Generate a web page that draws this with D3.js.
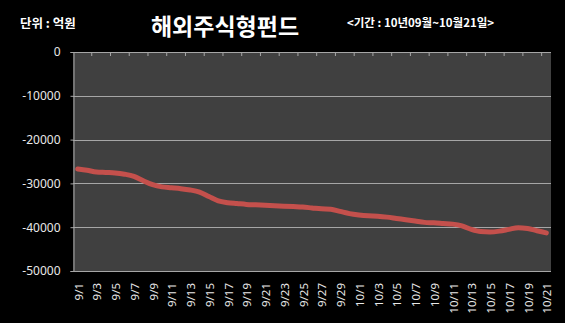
<!DOCTYPE html>
<html>
<head>
<meta charset="utf-8">
<script src="https://cdn.jsdelivr.net/npm/d3@7"></script>
<style>
  html, body { margin: 0; padding: 0; background: #000; }
  svg { display: block; }
</style>
</head>
<body>
<svg id="chart" width="565" height="323"></svg>
<script>
// Daily dates, 2010-09-01 .. 2010-10-21
const dates = [
  "9/1","9/2","9/3","9/4","9/5","9/6","9/7","9/8","9/9","9/10",
  "9/11","9/12","9/13","9/14","9/15","9/16","9/17","9/18","9/19","9/20",
  "9/21","9/22","9/23","9/24","9/25","9/26","9/27","9/28","9/29","9/30",
  "10/1","10/2","10/3","10/4","10/5","10/6","10/7","10/8","10/9","10/10",
  "10/11","10/12","10/13","10/14","10/15","10/16","10/17","10/18","10/19","10/20",
  "10/21"
];

// Cumulative net flow of overseas equity funds (억원)
const netFlow = [
  -26700, -27000, -27400, -27500, -27600, -27900, -28400, -29400, -30300, -30800,
  -31000, -31200, -31500, -32000, -33000, -34000, -34400, -34600, -34800, -34900,
  -35000, -35100, -35200, -35300, -35400, -35600, -35800, -35900, -36400, -36900,
  -37200, -37400, -37500, -37700, -38000, -38300, -38600, -38900, -39000, -39150,
  -39300, -39700, -40500, -41000, -41100, -40900, -40500, -40100, -40300, -40800,
  -41300
];

const yTicks = [0, -10000, -20000, -30000, -40000, -50000];

const titleText = "해외주식형펀드";
const unitText = "단위 : 억원";
const periodText = "<기간 : 10년09월~10월21일>";

const svg = d3.select("#chart");
const plot = { left: 73, right: 551, top: 52, bottom: 271 };

const x = d3.scaleBand().domain(dates).range([plot.left, plot.right]).padding(0);
const y = d3.scaleLinear().domain([-50000, 0]).range([plot.bottom, plot.top]);

// plot area
svg.append("rect")
  .attr("x", plot.left).attr("y", plot.top)
  .attr("width", plot.right - plot.left).attr("height", plot.bottom - plot.top)
  .attr("fill", "#404040");

// horizontal gridlines
svg.append("g")
  .selectAll("line")
  .data(yTicks.filter(d => d !== 0))
  .join("line")
  .attr("x1", plot.left).attr("x2", plot.right)
  .attr("y1", d => Math.round(y(d)) + 0.5)
  .attr("y2", d => Math.round(y(d)) + 0.5)
  .attr("stroke", "#a6a6a6")
  .attr("stroke-width", 1);

// category axis sits on the zero line, ticks on every second boundary
const boundaries = d3.range(2, dates.length, 2).map(k => plot.left + k * x.bandwidth());
svg.append("line")
  .attr("x1", plot.left).attr("x2", plot.right)
  .attr("y1", Math.round(y(0)) + 0.5).attr("y2", Math.round(y(0)) + 0.5)
  .attr("stroke", "#a6a6a6");
svg.append("g")
  .selectAll("line")
  .data(boundaries)
  .join("line")
  .attr("x1", d => d).attr("x2", d => d)
  .attr("y1", y(0)).attr("y2", y(0) + 4)
  .attr("stroke", "#a6a6a6");

// value axis
const yAxis = d3.axisLeft(y)
  .tickValues(yTicks)
  .tickSize(3)
  .tickPadding(10)
  .tickFormat(d => String(d));
const gy = svg.append("g")
  .attr("transform", `translate(${plot.left + 0.5},0)`)
  .call(yAxis);
gy.select(".domain").attr("stroke", "#a6a6a6");
gy.selectAll(".tick line").attr("stroke", "#a6a6a6");
gy.selectAll(".tick text")
  .attr("fill", "#e8e8e8")
  .attr("font-family", "'Noto Sans', 'DejaVu Sans', sans-serif")
  .attr("font-size", "12px");

// date labels below the plot, rotated
const xAxis = d3.axisBottom(x)
  .tickValues(dates.filter((d, i) => i % 2 === 0))
  .tickSize(0)
  .tickPadding(0);
const gx = svg.append("g")
  .attr("transform", `translate(1,${plot.bottom})`)
  .call(xAxis);
gx.select(".domain").remove();
gx.selectAll(".tick text")
  .attr("transform", "rotate(-90)")
  .attr("text-anchor", "end")
  .attr("x", -12)
  .attr("y", 0)
  .attr("dy", "0.35em")
  .attr("fill", "#e8e8e8")
  .attr("font-family", "'Noto Sans', 'DejaVu Sans', sans-serif")
  .attr("font-size", "11.5px");

// net flow line
const line = d3.line()
  .x((d, i) => x(dates[i]) + x.bandwidth() / 2)
  .y(d => y(d))
  .curve(d3.curveMonotoneX);
svg.append("path")
  .datum(netFlow)
  .attr("d", line)
  .attr("fill", "none")
  .attr("stroke", "#c4504c")
  .attr("stroke-width", 5)
  .attr("stroke-linejoin", "round")
  .attr("stroke-linecap", "round");

// header texts
const kr = "'Noto Sans CJK KR', 'Noto Sans', sans-serif";
svg.append("text")
  .attr("x", 225).attr("y", 25)
  .attr("text-anchor", "middle")
  .attr("dominant-baseline", "central")
  .attr("fill", "#fff")
  .attr("font-family", kr)
  .attr("font-weight", "bold")
  .attr("font-size", "23px")
  .text(titleText);
svg.append("text")
  .attr("x", 20).attr("y", 22)
  .attr("dominant-baseline", "central")
  .attr("fill", "#fff")
  .attr("font-family", kr)
  .attr("font-weight", "bold")
  .attr("font-size", "12.5px")
  .text(unitText);
svg.append("text")
  .attr("x", 347).attr("y", 22)
  .attr("dominant-baseline", "central")
  .attr("fill", "#fff")
  .attr("font-family", kr)
  .attr("font-weight", "bold")
  .attr("font-size", "11.5px")
  .text(periodText);
</script>
</body>
</html>
